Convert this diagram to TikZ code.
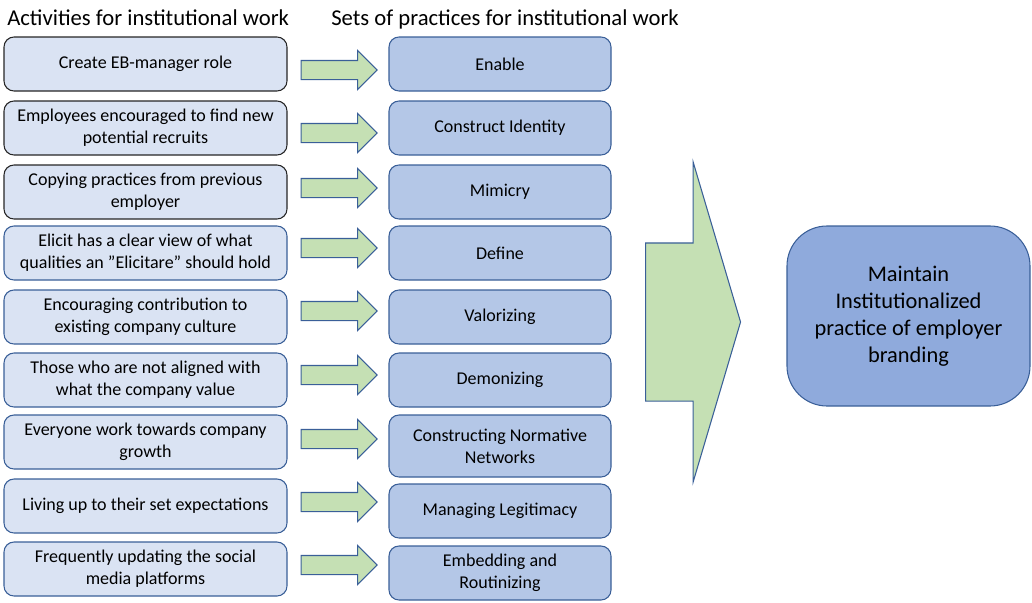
\documentclass[tikz,border=0pt]{standalone}
\usepackage{fontspec}
\setmainfont{Carlito}
\usetikzlibrary{shapes.arrows, calc}

\definecolor{actfill}{HTML}{DAE3F3}
\definecolor{setfill}{HTML}{B4C7E7}
\definecolor{goalfill}{HTML}{8FAADC}
\definecolor{flowfill}{HTML}{C5E0B4}
\definecolor{boxline}{HTML}{3A5F98}

\begin{document}
\begin{tikzpicture}[
    x=0.75pt, y=-0.75pt,
    head/.style={
        inner sep=0pt,
        font=\fontsize{17}{20}\selectfont
    },
    act/.style={
        draw=boxline,
        fill=actfill,
        rectangle,
        rounded corners=7.5pt,
        align=center,
        minimum width=283*0.75pt,
        minimum height=54*0.75pt,
        inner sep=0pt,
        line width=0.8pt,
        font=\fontsize{13.5}{16.5}\selectfont
    },
    actdark/.style={act, draw=black!85},
    set/.style={act, fill=setfill, minimum width=222*0.75pt},
    goal/.style={
        draw=boxline,
        fill=goalfill,
        rectangle,
        rounded corners=30pt,
        align=center,
        minimum width=243*0.75pt,
        minimum height=180*0.75pt,
        line width=0.8pt,
        font=\fontsize{16.8}{20.3}\selectfont
    },
    flow/.style={
        single arrow,
        draw=boxline,
        fill=flowfill,
        line width=0.8pt,
        text height=0pt, text depth=0pt,
        inner xsep=0pt, inner ysep=9*0.75pt,
        single arrow head extend=10*0.75pt,
        single arrow tip angle=90,
        minimum height=76*0.75pt
    }
]
\useasboundingbox (0,0) rectangle (1032,603);

% Column headings
\node[head, anchor=base west] (acthead) at (7,26) {Activities for institutional work};
\node[head, anchor=base west] (sethead) at (331,26) {Sets of practices for institutional work};

% Activities
\node[actdark] (act1) at (145.5,64)  {Create EB-manager role};
\node[actdark] (act2) at (145.5,128) {Employees encouraged to find new\\potential recruits};
\node[actdark] (act3) at (145.5,192) {Copying practices from previous\\employer};
\node[act] (act4) at (145.5,253) {Elicit has a clear view of what\\qualities an ”Elicitare” should hold};
\node[act] (act5) at (145.5,317) {Encouraging contribution to\\existing company culture};
\node[act] (act6) at (145.5,380) {Those who are not aligned with\\what the company value};
\node[act] (act7) at (145.5,442) {Everyone work towards company\\growth};
\node[act] (act8) at (145.5,506) {Living up to their set expectations};
\node[act] (act9) at (145.5,569) {Frequently updating the social\\media platforms};

% Sets of practices
\node[set] (set1) at (500,64)  {Enable};
\node[set] (set2) at (500,128) {Construct Identity};
\node[set] (set3) at (500,192) {Mimicry};
\node[set] (set4) at (500,253) {Define};
\node[set] (set5) at (500,317) {Valorizing};
\node[set] (set6) at (500,380) {Demonizing};
\node[set, minimum height=62*0.75pt] (set7) at (500,446) {Constructing Normative\\Networks};
\node[set] (set8) at (500,511) {Managing Legitimacy};
\node[set] (set9) at (500,573) {Embedding and\\Routinizing};

% Small arrows between the columns (not all sit on the row centre)
\foreach \i/\dy in {1/6, 2/5, 3/-4, 4/-5, 5/-6, 6/-5, 7/-3, 8/-4, 9/-4}
    \node[flow, anchor=tail] (flow\i) at ($(act\i.east)+(13,\dy)$) {};

% Big arrow and outcome
\node[flow, anchor=tail,
      inner ysep=78.5*0.75pt,
      single arrow head extend=81*0.75pt,
      single arrow tip angle=147,
      minimum height=95*0.75pt] (push) at (645,322) {};

\node[goal] (goal) at (908.5,316) {Maintain\\Institutionalized\\practice of employer\\branding};

\end{tikzpicture}
\end{document}
